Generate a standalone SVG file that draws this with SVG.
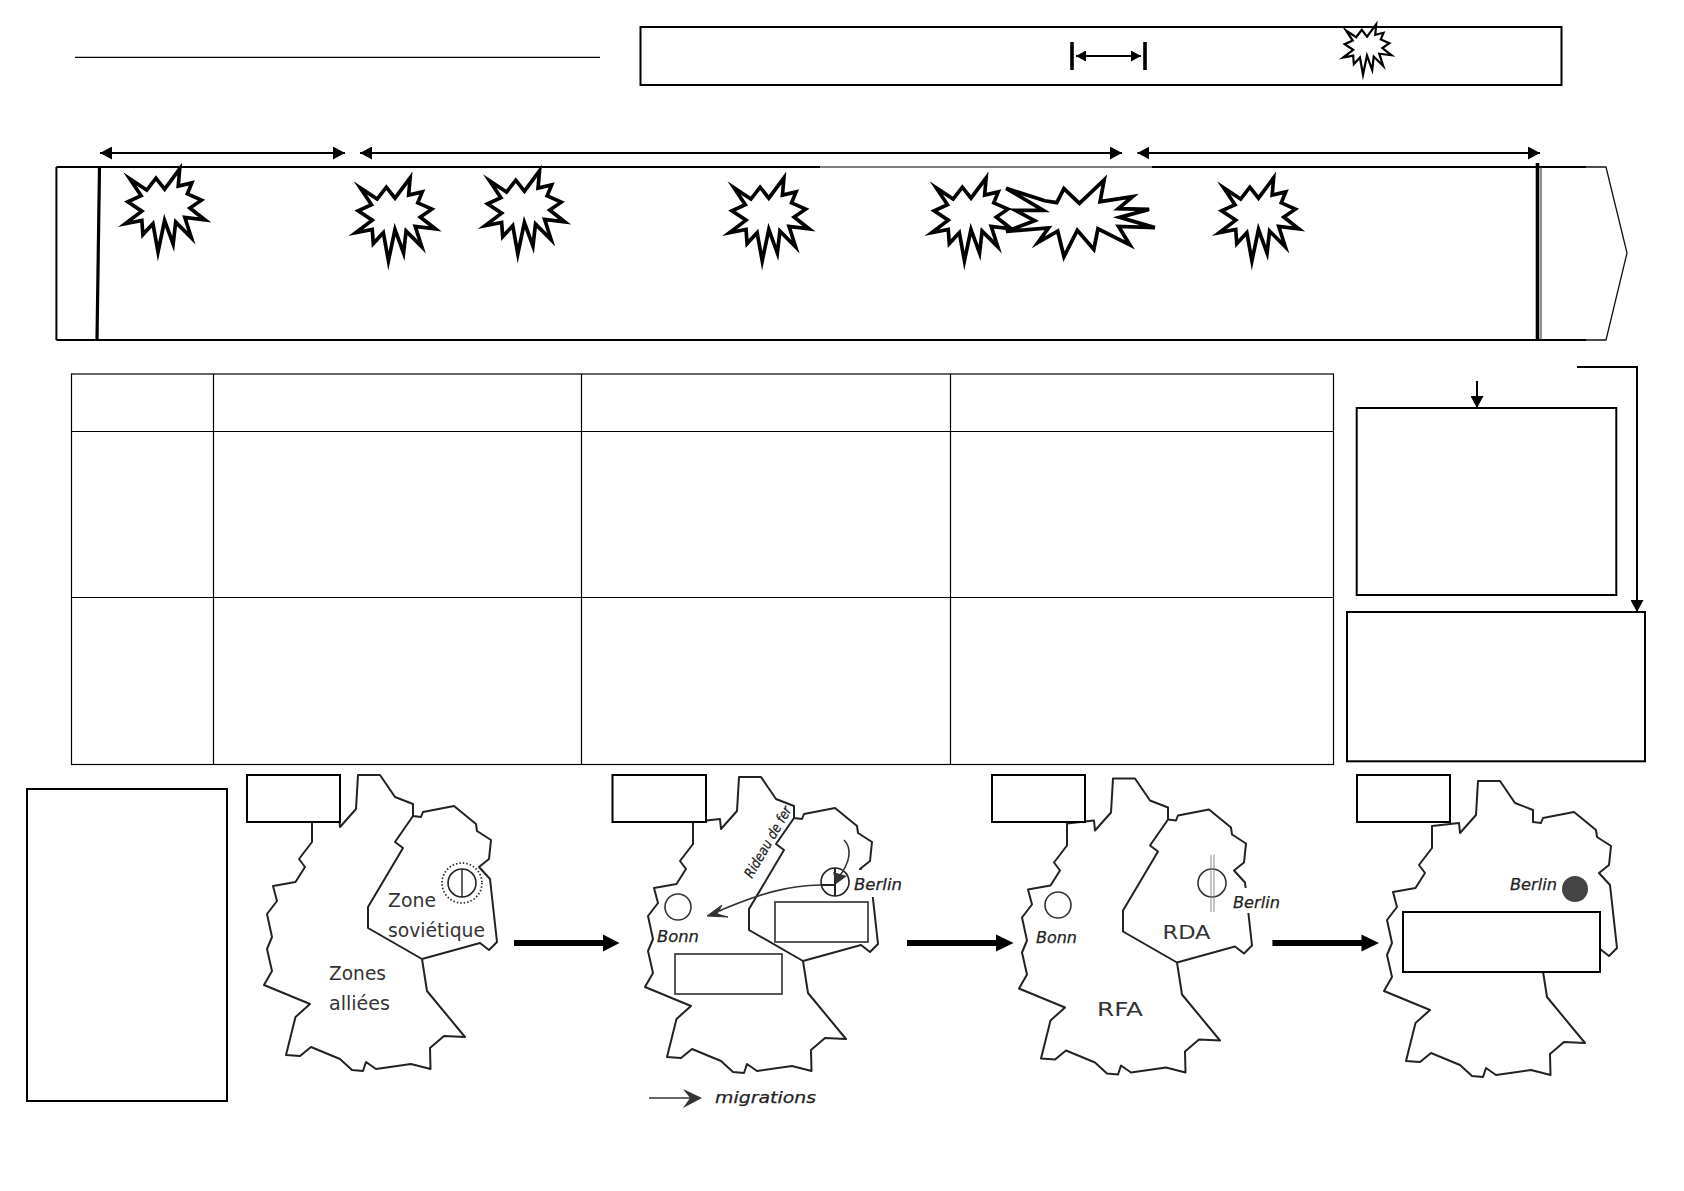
<svg xmlns="http://www.w3.org/2000/svg" width="1684" height="1191" viewBox="0 0 1684 1191">
<style>
.box{fill:#fff;stroke:#000;stroke-width:2}
.cell{fill:none;stroke:#000;stroke-width:1.2}
.burst{fill:#fff;stroke:#000;stroke-width:3.9;stroke-linejoin:miter;stroke-miterlimit:7}
.map{fill:none;stroke:#222;stroke-width:2;stroke-linejoin:round}
.conn{fill:none;stroke:#000;stroke-width:2}
.fat{fill:none;stroke:#000;stroke-width:6}
.ink{fill:none;stroke:#333;stroke-width:1.6}
.hand{font-family:"DejaVu Sans",sans-serif;fill:#333;font-size:20px}
.handi{font-family:"DejaVu Sans",sans-serif;font-style:italic;fill:#222;stroke:#222;stroke-width:.25;font-size:16px}
.gbox{fill:none;stroke:#444;stroke-width:1.8}
</style>
<defs>
<polygon id="burst" points="-37,-31 -19,-19 -9.2,-31.7 0,-20 16.1,-41.7 14.5,-23.3 29,-26.7 24.2,-15 39.2,-8.3 26.9,0 43,12.7 21.5,10 28.5,31.7 11.8,15 9.1,38.3 0,13.3 -7,46.7 -12.4,16.7 -23.1,28.3 -24.2,13.3 -41.9,16.7 -24.2,3.3 -39.2,-6.7 -25,-13"/>
<marker id="tri" markerUnits="userSpaceOnUse" markerWidth="13" markerHeight="13" refX="12" refY="6.5" orient="auto-start-reverse"><path d="M0,0L12,6.5L0,13Z" fill="#000"/></marker>
<marker id="tris" markerUnits="userSpaceOnUse" markerWidth="11" markerHeight="11" refX="10" refY="5.5" orient="auto-start-reverse"><path d="M0,0L10,5.5L0,11Z" fill="#000"/></marker>
<path id="de-outline" d="M1478,781L1500,781L1515,803L1533,810L1533,822L1541,823L1543,818L1574,812L1596,830L1597,837L1611,846L1609,865L1599,873L1610,885L1617,948L1609,956L1600,949L1542,965L1547,997L1585,1043L1564,1042L1550,1054L1550.5,1075L1531,1070L1496,1075L1486,1068L1483,1077L1472,1076L1460,1065L1431,1053L1420,1062L1406,1061L1415.5,1023L1430,1010L1384,991L1392,977L1387,955L1392,943L1387,920L1397,907L1393,892L1415.5,888L1425,873L1419,865L1432,848L1432,826L1459,823L1460,833L1476,815Z"/>
<path id="de-inner" d="M1533,822L1515,848L1523,854L1488,913L1488,934L1542,965"/>
</defs>
<rect width="1684" height="1191" fill="#fff"/>

<g id="title-rule"><line x1="75" y1="57.4" x2="600" y2="57.4" stroke="#000" stroke-width="1.2"/></g>
<g id="legend-box"><rect class="box" x="640.5" y="27" width="921" height="58"/></g>
<g id="legend-burst"><use href="#burst" class="burst" transform="translate(1367,48) scale(.57)"/></g>

<g id="timeline">
<path d="M56.4,167H820M1152,167H1586M56.4,167V340M56.4,340H1586" fill="none" stroke="#000" stroke-width="2"/>
<line x1="820" y1="167" x2="1152" y2="167" stroke="#000" stroke-width="1"/>
<path d="M1586,167H1606L1627,253L1606,340H1586" fill="none" stroke="#111" stroke-width="1.3"/>
<line x1="99.5" y1="167" x2="97" y2="340" stroke="#000" stroke-width="3.2"/>
<line x1="1537.5" y1="163" x2="1537.5" y2="341" stroke="#000" stroke-width="3.6"/>
<line x1="1541" y1="167" x2="1541" y2="340" stroke="#444" stroke-width="1.2"/>
</g>
<g id="burst-1"><use href="#burst" class="burst" transform="translate(164.6,208) scale(.94)"/></g>
<g id="burst-2"><use href="#burst" class="burst" transform="translate(395,217) scale(.94)"/></g>
<g id="burst-3"><use href="#burst" class="burst" transform="translate(524.4,210) scale(.94)"/></g>
<g id="burst-4"><use href="#burst" class="burst" transform="translate(768.8,217) scale(.94)"/></g>
<g id="burst-5"><use href="#burst" class="burst" transform="translate(971,217) scale(.94)"/></g>
<g id="burst-6"><polygon class="burst" style="fill:none" transform="translate(1080,219) scale(.96) translate(-1080,-219)" points="1003,187 1043.4,200 1055.8,202 1063.3,187.3 1079.4,202.7 1105.2,178.3 1100.9,201 1134.7,195.7 1119.7,208.3 1152,209 1121.3,217.3 1158,228 1120.2,226.7 1132,246 1098.7,229.3 1094.4,250.7 1077.2,230.7 1063.3,258.3 1056.8,231.7 1036.4,243.3 1047.2,228.3 1003,232 1032.7,220.7 1012.8,210 1041.8,210"/></g>
<g id="burst-7"><use href="#burst" class="burst" transform="translate(1258.5,217) scale(.94)"/></g>

<g id="table">
<rect class="cell" x="71.5" y="374" width="1262" height="390.5"/>
<path class="cell" d="M71.5,431.5H1333.5M71.5,597.5H1333.5M213.5,374V764.5M581.5,374V764.5M950.5,374V764.5"/>
</g>
<g id="box-a"><rect class="box" x="1356.7" y="408" width="259.6" height="187"/></g>
<g id="box-b"><rect class="box" x="1347" y="612" width="298" height="149.3"/></g>
<g id="box-left"><rect class="box" x="27" y="789" width="200" height="312"/></g>

<g id="map-1">
<use href="#de-outline" class="map" transform="translate(-1120,-6)"/>
<use href="#de-inner" class="map" transform="translate(-1120,-6)"/>
<circle cx="462" cy="883" r="20" fill="#fff" stroke="#333" stroke-width="1.8" stroke-dasharray="1.5 2"/>
<circle cx="462" cy="883" r="14" fill="none" stroke="#222" stroke-width="1.6"/>
<line x1="462" y1="869" x2="462" y2="897" stroke="#222" stroke-width="1.4"/>
<text class="hand" x="388" y="907" textLength="48" lengthAdjust="spacingAndGlyphs">Zone</text>
<text class="hand" x="388" y="937" textLength="97" lengthAdjust="spacingAndGlyphs">soviétique</text>
<text class="hand" x="329" y="980" textLength="57" lengthAdjust="spacingAndGlyphs">Zones</text>
<text class="hand" x="329" y="1010" textLength="61" lengthAdjust="spacingAndGlyphs">alliées</text>
<rect class="box" x="247" y="775" width="93" height="47"/>
</g>

<g id="map-2">
<use href="#de-outline" class="map" transform="translate(-739,-4)"/>
<use href="#de-inner" class="map" transform="translate(-739,-4)"/>
<rect x="856" y="870" width="30" height="27" fill="#fff"/>
<circle cx="678" cy="907" r="13" fill="none" stroke="#333" stroke-width="1.6"/>
<text class="handi" x="657" y="942" textLength="42" lengthAdjust="spacingAndGlyphs">Bonn</text>
<circle cx="835" cy="882" r="14" fill="#fff" stroke="#222" stroke-width="1.6"/>
<path class="map" d="M835,868V896M821,885H835"/>
<text class="handi" x="854" y="890" textLength="48" lengthAdjust="spacingAndGlyphs">Berlin</text>
<text class="handi" transform="translate(752,879) rotate(-60)" style="font-size:14px" textLength="80" lengthAdjust="spacingAndGlyphs">Rideau de fer</text>
<path class="ink" d="M821,885C790,885 760,893 712,914"/>
<path d="M707,916L722,905L717,914L728,917Z" fill="#333" stroke="#333"/>
<path class="ink" d="M844,840C852,848 851,862 838,878"/>
<path d="M836,884L833,872L847,876Z" fill="#333"/>
<rect class="gbox" x="775" y="902" width="93" height="40"/>
<rect class="gbox" x="675" y="954" width="107" height="40"/>
<path class="ink" d="M649,1098H696"/>
<path d="M702,1098L683,1089L690,1098L683,1108Z" fill="#333"/>
<text class="handi" x="715" y="1103" textLength="101" lengthAdjust="spacingAndGlyphs">migrations</text>
<rect class="box" x="612.5" y="775" width="93.5" height="47"/>
</g>

<g id="map-3">
<use href="#de-outline" class="map" transform="translate(-365,-2.5)"/>
<use href="#de-inner" class="map" transform="translate(-365,-2.5)"/>
<rect x="1238" y="888" width="20" height="25" fill="#fff"/>
<circle cx="1058" cy="905" r="13" fill="none" stroke="#333" stroke-width="1.6"/>
<text class="handi" x="1036" y="943" textLength="41" lengthAdjust="spacingAndGlyphs">Bonn</text>
<circle cx="1212" cy="883" r="14" fill="none" stroke="#333" stroke-width="1.6"/>
<path d="M1211,855V912M1214,855V912" fill="none" stroke="#888" stroke-width="1"/>
<text class="handi" x="1233" y="908" textLength="47" lengthAdjust="spacingAndGlyphs">Berlin</text>
<text class="hand" x="1162.5" y="939" textLength="48" lengthAdjust="spacingAndGlyphs">RDA</text>
<text class="hand" x="1097" y="1016" textLength="46" lengthAdjust="spacingAndGlyphs">RFA</text>
<rect class="box" x="992" y="775" width="93" height="47"/>
</g>

<g id="map-4">
<use href="#de-outline" class="map"/>
<text class="handi" x="1510" y="890" textLength="47" lengthAdjust="spacingAndGlyphs">Berlin</text>
<circle cx="1575" cy="889" r="13" fill="#444"/>
<rect class="box" x="1403" y="912" width="197" height="60"/>
<rect class="box" x="1357" y="775" width="93" height="47"/>
</g>

<g id="connectors">
<line class="conn" x1="100" y1="153" x2="345" y2="153" marker-start="url(#tri)" marker-end="url(#tri)"/>
<line class="conn" x1="360" y1="153" x2="1122" y2="153" marker-start="url(#tri)" marker-end="url(#tri)"/>
<line class="conn" x1="1137.4" y1="153" x2="1540" y2="153" marker-start="url(#tri)" marker-end="url(#tri)"/>
<line class="conn" x1="1076" y1="56" x2="1141" y2="56" marker-start="url(#tris)" marker-end="url(#tris)"/>
<path d="M1072,42V70M1145,42V70" fill="none" stroke="#000" stroke-width="3.6"/>
<line class="conn" x1="1477" y1="381" x2="1477" y2="408" marker-end="url(#tri)"/>
<path class="conn" d="M1577,367H1637V612" marker-end="url(#tri)"/>
<path class="fat" d="M514,943H605"/><path d="M603,934.5L619.5,943L603,951.5Z"/>
<path class="fat" d="M907,943H998"/><path d="M996,934.5L1013.6,943L996,951.5Z"/>
<path class="fat" d="M1272.4,943H1363"/><path d="M1361.5,934.5L1379,943L1361.5,951.5Z"/>
</g>
</svg>
